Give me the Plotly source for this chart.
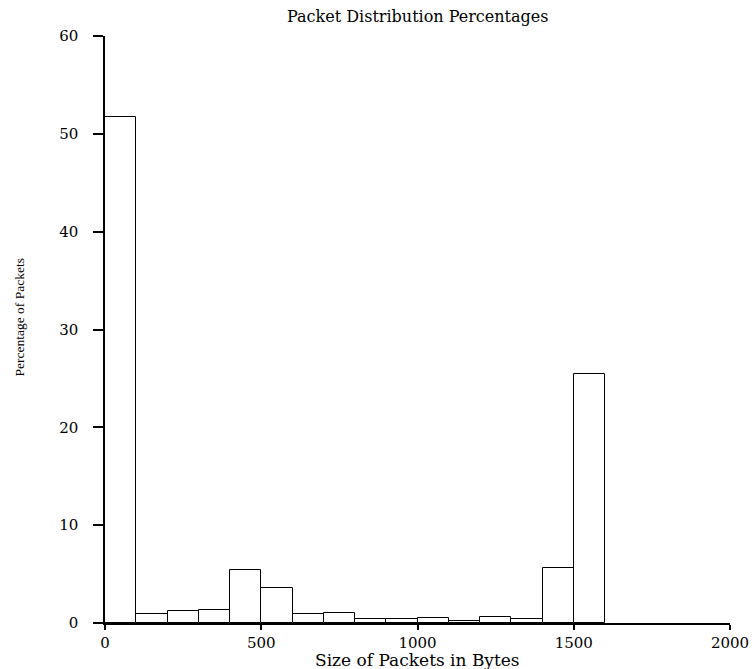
import plotly.graph_objects as go

bin_starts = [0, 100, 200, 300, 400, 500, 600, 700, 800, 900, 1000, 1100, 1200, 1300, 1400, 1500]
percentages = [51.7, 0.89, 1.2, 1.3, 5.38, 3.54, 0.89, 1.02, 0.44, 0.38, 0.48, 0.24, 0.58, 0.41, 5.6, 25.5]
bin_width = 100
x_ticks = [0, 500, 1000, 1500, 2000]
y_ticks = [0, 10, 20, 30, 40, 50, 60]

FONT = "DejaVu Serif"

fig = go.Figure(go.Bar(
    x=bin_starts,
    y=percentages,
    width=[bin_width] * len(bin_starts),
    offset=0,
    marker=dict(color="white", line=dict(color="black", width=1)),
))

fig.update_layout(
    width=756, height=669,
    margin=dict(l=105, r=26, t=36, b=46),
    paper_bgcolor="white", plot_bgcolor="white",
    showlegend=False,
    bargap=0,
    font=dict(family=FONT, color="black", size=15),
    annotations=[
        dict(text="Packet Distribution Percentages", xref="paper", yref="paper",
             x=0.5, y=1, yshift=20, showarrow=False, xanchor="center", yanchor="middle",
             font=dict(family=FONT, size=16, color="black")),
        dict(text="Size of Packets in Bytes", xref="paper", yref="paper",
             x=0.5, y=0, yshift=-37, showarrow=False, xanchor="center", yanchor="middle",
             font=dict(family=FONT, size=17, color="black")),
        dict(text="Percentage of Packets", xref="paper", yref="paper",
             x=0, xshift=-86, y=0.5, yshift=12, showarrow=False, textangle=-90,
             xanchor="center", yanchor="middle",
             font=dict(family="Liberation Serif", size=13.5, color="black")),
    ],
)

fig.update_xaxes(
    range=[0, 2000], tickvals=x_ticks, ticktext=[str(v) for v in x_ticks],
    showline=True, linecolor="black", linewidth=1.5, ticks="outside", ticklen=5,
    tickcolor="black", tickwidth=1.5, showgrid=False, zeroline=False,
    tickfont=dict(family=FONT, size=15), automargin=False,
)
fig.update_yaxes(
    range=[0, 60], tickvals=y_ticks, ticktext=[str(v) for v in y_ticks],
    showline=True, linecolor="black", linewidth=1.5, ticks="outside", ticklen=10,
    tickcolor="black", tickwidth=1.5, showgrid=False, zeroline=False,
    tickfont=dict(family=FONT, size=15), ticklabelstandoff=12, automargin=False,
)

fig.write_html(
    "out.html",
    config={"displayModeBar": False},
    post_script="document.body.style.margin='0px';document.body.style.overflow='hidden';",
)
